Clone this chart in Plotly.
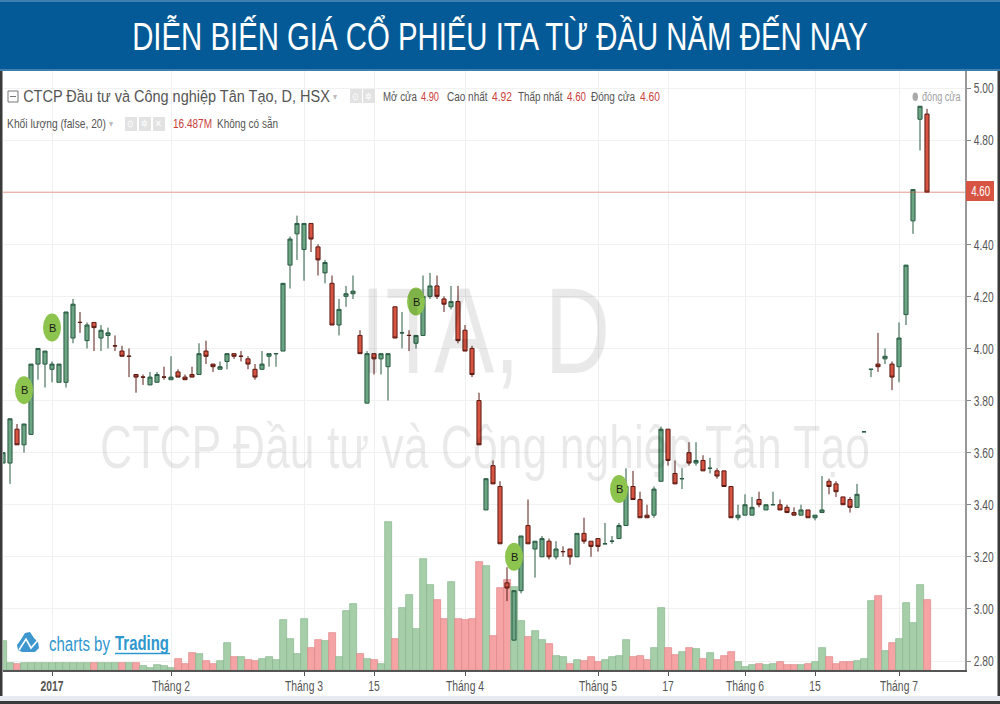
import json
import plotly.graph_objects as go

# ---------- data ----------
open_ = [3.56,3.56,3.69,3.63,3.67,3.94,3.94,3.92,3.87,3.87,4.04,4.10,4.03,4.10,4.04,4.05,4.01,3.99,3.97,3.90,
         3.89,3.86,3.87,3.89,3.88,3.91,3.89,3.90,3.90,3.99,3.94,3.92,3.95,3.98,3.97,3.96,3.92,3.92,3.97,3.98,
         3.99,4.32,4.44,4.38,4.48,4.39,4.29,4.25,4.09,4.20,4.21,4.05,3.79,3.98,3.96,3.93,4.16,4.06,4.05,4.02,
         4.05,4.20,4.24,4.19,4.16,4.18,4.07,4.00,3.80,3.38,3.55,3.47,3.10,2.88,3.07,3.32,3.23,3.20,3.26,3.20,
         3.22,3.23,3.20,3.29,3.26,3.27,3.25,3.26,3.27,3.32,3.47,3.42,3.36,3.36,3.49,3.69,3.52,3.50,3.60,3.56,
         3.57,3.54,3.53,3.53,3.47,3.35,3.36,3.36,3.42,3.38,3.40,3.40,3.39,3.37,3.36,3.38,3.35,3.37,3.49,3.48,
         3.43,3.42,3.39,3.68,3.92,3.94,3.96,3.94,3.93,4.13,4.49,4.88,4.90]
high = [3.60,3.73,3.71,3.71,3.94,4.00,3.99,3.95,3.94,4.14,4.19,4.14,4.10,4.10,4.09,4.08,4.05,4.01,4.00,3.90,
        3.90,3.91,3.91,3.93,3.97,3.92,3.90,3.93,4.02,4.03,3.94,3.95,3.98,3.98,3.99,3.97,3.94,3.99,3.98,3.98,
        4.25,4.43,4.51,4.48,4.48,4.40,4.34,4.28,4.19,4.24,4.28,4.07,3.99,3.98,3.98,3.98,4.16,4.14,4.07,4.05,
        4.28,4.29,4.28,4.20,4.24,4.24,4.09,4.01,3.83,3.50,3.57,3.49,3.16,3.07,3.28,3.42,3.26,3.28,3.27,3.26,
        3.24,3.23,3.29,3.35,3.26,3.27,3.33,3.28,3.33,3.54,3.53,3.45,3.40,3.47,3.70,3.69,3.57,3.54,3.64,3.64,
        3.59,3.58,3.54,3.53,3.47,3.40,3.44,3.43,3.45,3.40,3.45,3.42,3.40,3.39,3.40,3.38,3.36,3.51,3.50,3.49,
        3.43,3.43,3.48,3.68,3.92,4.06,4.00,3.95,4.10,4.32,4.61,4.93,4.92]
low = [3.56,3.48,3.63,3.60,3.67,3.88,3.85,3.87,3.87,3.85,4.02,4.06,4.00,3.99,3.99,4.00,3.99,3.97,3.89,3.83,
       3.86,3.86,3.87,3.88,3.88,3.89,3.88,3.89,3.90,3.94,3.91,3.92,3.92,3.96,3.95,3.92,3.88,3.92,3.93,3.93,
       3.99,4.23,4.34,4.26,4.37,4.28,4.25,4.09,4.05,4.16,4.19,3.98,3.79,3.90,3.90,3.80,4.04,4.00,3.99,4.00,
       4.05,4.19,4.19,4.14,4.15,4.02,3.99,3.89,3.63,3.38,3.48,3.25,3.03,2.88,3.06,3.25,3.12,3.20,3.19,3.19,
       3.20,3.17,3.20,3.25,3.20,3.22,3.25,3.25,3.27,3.32,3.42,3.35,3.35,3.35,3.49,3.55,3.48,3.46,3.55,3.55,
       3.53,3.52,3.50,3.47,3.35,3.34,3.36,3.36,3.39,3.38,3.40,3.38,3.37,3.36,3.36,3.35,3.34,3.37,3.44,3.43,
       3.40,3.37,3.39,3.68,3.89,3.91,3.94,3.84,3.87,4.09,4.44,4.76,4.60]
close = [3.60,3.73,3.63,3.71,3.94,4.00,3.99,3.94,3.94,4.14,4.17,4.10,4.09,4.08,4.07,4.06,4.01,3.97,3.97,3.89,
         3.89,3.89,3.90,3.89,3.89,3.89,3.88,3.89,3.98,3.97,3.93,3.93,3.98,3.97,3.97,3.94,3.89,3.94,3.98,3.98,
         4.25,4.42,4.48,4.48,4.42,4.34,4.33,4.09,4.15,4.21,4.22,3.98,3.98,3.96,3.98,3.98,4.04,4.06,4.05,4.05,
         4.20,4.24,4.20,4.17,4.18,4.03,3.99,3.90,3.63,3.50,3.48,3.25,3.08,3.07,3.28,3.25,3.26,3.27,3.20,3.23,
         3.22,3.20,3.29,3.26,3.24,3.24,3.25,3.26,3.32,3.47,3.42,3.35,3.35,3.46,3.69,3.57,3.48,3.50,3.56,3.57,
         3.53,3.54,3.51,3.47,3.35,3.36,3.40,3.39,3.40,3.40,3.40,3.38,3.37,3.36,3.38,3.35,3.36,3.38,3.47,3.45,
         3.40,3.39,3.44,3.68,3.92,3.93,3.97,3.89,4.04,4.32,4.61,4.93,4.60]
volume_m = [6.8,1.6,1.4,1.6,1.6,1.6,1.6,1.6,1.6,1.6,1.6,1.6,1.6,1.6,1.6,1.6,1.6,1.6,1.6,1.6,
            0.9,0.5,1.2,0.9,0.5,2.6,1.4,4.0,3.8,2.1,1.4,2.1,6.4,3.1,3.1,2.4,2.1,2.6,3.1,2.4,
            11.8,7.3,3.8,12.0,5.2,7.1,6.8,8.7,3.1,13.9,15.5,3.8,2.6,2.4,1.4,34.9,7.3,14.6,17.7,9.7,
            26.1,20.0,16.5,12.0,20.7,12.0,11.8,12.0,25.4,24.5,8.0,19.3,21.2,19.5,11.5,7.8,9.2,7.1,6.1,3.3,
            3.1,1.4,2.4,2.1,3.1,1.9,2.4,3.1,3.3,7.1,3.1,3.3,2.4,5.2,14.6,5.2,3.5,4.2,5.2,4.9,
            2.6,4.0,2.4,3.3,4.2,1.9,0.7,1.2,1.4,1.2,1.4,1.9,1.2,1.2,1.2,1.4,1.9,5.2,3.1,1.4,
            1.9,1.9,2.1,2.6,16.2,17.4,4.5,6.4,7.3,15.8,11.1,20.0,16.487]
# bars drawn in the falling-volume (red) colour
red_bars = [2,13,17,19,25,26,27,29,30,33,35,36,44,45,47,51,53,56,62,63,65,66,67,68,70,71,72,75,78,81,83,84,85,
            90,91,92,95,96,98,100,102,103,104,108,111,112,113,115,118,119,120,121,125,127,132]
bar_idx = list(range(len(close)))

tick_idx = [7, 24, 43, 53, 66, 85, 95, 106, 116, 128]
tick_text = ["<b>2017</b>", "Tháng 2", "Tháng 3", "15", "Tháng 4", "Tháng 5", "17", "Tháng 6", "15", "Tháng 7"]
price_ticks = [2.8, 3.0, 3.2, 3.4, 3.6, 3.8, 4.0, 4.2, 4.4, 4.6, 4.8, 5.0]
buy_idx = [3, 7, 59, 73, 88]
buy_price = [3.84, 4.08, 4.18, 3.20, 3.46]
last_close = 4.60

title = "DIỄN BIẾN GIÁ CỔ PHIẾU ITA TỪ ĐẦU NĂM ĐẾN NAY"

vol_colors = ["#F5A3A5" if i in red_bars else "#A6CFA9" for i in bar_idx]
vol_lines = ["#DE8487" if i in red_bars else "#86B58C" for i in bar_idx]

# ---------- layout geometry ----------
W, H = 1000, 704
L, R, T, B = 3, 965, 71, 670
FONT = "Liberation Sans"
PX_PER_UNIT = 260.45
px = lambda x: (x - L) / (R - L)
py = lambda y: (B - y) / (B - T)

fig = go.Figure()
fig.add_trace(go.Bar(x=bar_idx, y=volume_m, yaxis="y", width=1.0,
                     marker=dict(color=vol_colors, line=dict(color=vol_lines, width=0.7)),
                     hoverinfo="skip", showlegend=False))
fig.add_trace(go.Candlestick(x=bar_idx, open=open_, high=high, low=low, close=close, yaxis="y2",
                             increasing=dict(line=dict(color="#2A5A43", width=1), fillcolor="#6BA583"),
                             decreasing=dict(line=dict(color="#5B1A13", width=1), fillcolor="#D75442"),
                             whiskerwidth=0, showlegend=False))

shapes, ann, fit = [], [], {}

def rect(x0, y0, x1, y1, color):
    shapes.append(dict(type="rect", xref="paper", yref="paper", x0=px(x0), x1=px(x1), y0=py(y0), y1=py(y1),
                       fillcolor=color, line=dict(width=0), layer="above"))

def text(x, y, s, size=12, color="#555555", anchor="left", width=None):
    """width = wanted drawn width in px; the page narrows the text to it (the source face is condensed)."""
    fit[len(ann)] = dict(w=width, a=anchor)
    ann.append(dict(xref="paper", yref="paper", x=px(x), y=py(y), text=s, showarrow=False, xanchor=anchor,
                    yanchor="middle", font=dict(family=FONT, size=size, color=color), borderpad=0, borderwidth=0))

# watermark
text(485, 331, "ITA, D", 122, "rgba(0,0,0,0.085)", "center", 250)
text(485, 447, "CTCP Đầu tư và Công nghiệp Tân Tạo", 62, "rgba(0,0,0,0.085)", "center", 770)

# last close line
shapes.append(dict(type="line", xref="paper", yref="y2", x0=0, x1=1, y0=last_close, y1=last_close,
                   line=dict(color="rgba(215,84,66,0.55)", width=1), layer="above"))

# buy markers
for i, p in zip(buy_idx, buy_price):
    shapes.append(dict(type="circle", xref="x", yref="y2", xsizemode="pixel", ysizemode="pixel",
                       xanchor=i, yanchor=p, x0=-9, x1=9, y0=-14, y1=14,
                       fillcolor="#8CC44E", line=dict(width=0), layer="above"))
    ann.append(dict(xref="x", yref="y2", x=i, y=p, text="B", showarrow=False,
                    font=dict(family=FONT, size=11, color="#1a1a1a")))

# header band
rect(0, 0, 1000, 71, "#035A96")
rect(0, 0, 1000, 2, "#3D7FAE")
rect(0, 69, 1000, 71, "#3D7FAE")
text(500, 36, title, 39, "#FFFFFF", "center", 736)

# frame
rect(0, 71, 2.5, 704, "#3A3A3A")
rect(997.5, 71, 1000, 704, "#3A3A3A")
rect(0, 696, 1000, 701, "#E6EAEF")
rect(0, 701, 1000, 704, "#3A3A3A")

# legend row 1
shapes.append(dict(type="rect", xref="paper", yref="paper", x0=px(8), x1=px(18), y0=py(102), y1=py(91),
                   line=dict(color="#777777", width=1), fillcolor="rgba(0,0,0,0)"))
shapes.append(dict(type="line", xref="paper", yref="paper", x0=px(10), x1=px(16), y0=py(96.5), y1=py(96.5),
                   line=dict(color="#777777", width=1)))
text(23, 96, "CTCP Đầu tư và Công nghiệp Tân Tạo, D, HSX", 16.5, "#555555", width=307)
text(333, 96, "▾", 10, "#BBBBBB")
for bx in (350, 363):
    rect(bx, 89, bx + 12, 103, "#E2E2E2")
text(356, 96, "⊙", 10, "#FFFFFF", "center")
text(369, 96, "✲", 10, "#FFFFFF", "center")
text(383, 97, "Mở cửa", 12.5, width=34)
text(421, 97, "4.90", 12.5, "#C9403A", width=18)
text(447, 97, "Cao nhất", 12.5, width=41)
text(492, 97, "4.92", 12.5, "#C9403A", width=20)
text(518, 97, "Thấp nhất", 12.5, width=45)
text(567, 97, "4.60", 12.5, "#C9403A", width=19)
text(591, 97, "Đóng cửa", 12.5, width=44)
text(640, 97, "4.60", 12.5, "#C9403A", width=20)

# legend row 2
text(7, 124, "Khối lượng (false, 20)", 13.5, width=99)
text(109, 124, "▾", 10, "#BBBBBB")
for bx in (125, 139, 153):
    rect(bx, 117, bx + 12, 131, "#E2E2E2")
text(131, 124, "⊙", 10, "#FFFFFF", "center")
text(145, 124, "✲", 10, "#FFFFFF", "center")
text(159, 124, "✕", 10, "#FFFFFF", "center")
text(173, 124, "16.487M", 13.5, "#C9403A", width=39)
text(217, 124, "Không có sẵn", 13.5, width=61)

# session label
shapes.append(dict(type="circle", xref="paper", yref="paper", x0=px(912.5), x1=px(918), y0=py(101), y1=py(92.5),
                   fillcolor="#AAAAAA", line=dict(width=0)))
text(922, 96, "đóng cửa", 13, "#A0A0A0", width=39)

# last price tag
rect(966, 181, 994, 201, "#D75442")
text(980, 191, "4.60", 14, "#FFFFFF", "center", 19)

# logo
def coords(points):
    return " L ".join(f"{px(a):.5f},{py(b):.5f}" for a, b in points)

shapes.append(dict(type="path", xref="paper", yref="paper", fillcolor="#3E97CF", line=dict(width=0),
                   path="M " + coords([(17, 645), (22, 638), (25, 633), (30, 632), (34, 638), (38, 642),
                                       (39, 648), (35, 652), (22, 652), (18, 650)]) + " Z"))
shapes.append(dict(type="path", xref="paper", yref="paper", fillcolor="rgba(0,0,0,0)",
                   line=dict(color="#FFFFFF", width=1.6),
                   path="M " + coords([(19, 650), (26, 639), (31, 648), (38, 640)])))
text(49, 644, "charts by", 20, "#2E97CE", width=61)
text(115, 643, "<b>Trading</b>", 20, "#2E97CE", width=54)
shapes.append(dict(type="line", xref="paper", yref="paper", x0=px(115), x1=px(170), y0=py(653.5), y1=py(653.5),
                   line=dict(color="#2E97CE", width=1.5)))

fig.update_layout(
    width=W, height=H, margin=dict(l=L, r=W - R, t=T, b=H - B, pad=0, autoexpand=False),
    paper_bgcolor="#FFFFFF", plot_bgcolor="#FFFFFF",
    bargap=0, boxgap=0.35, boxgroupgap=0.1, showlegend=False, hovermode=False,
    shapes=shapes, annotations=ann,
    xaxis=dict(range=[0, (R - L) / 7], rangeslider=dict(visible=False), tickmode="array", tickvals=tick_idx,
               ticktext=tick_text, ticks="outside", ticklen=4, tickcolor="#555555", showgrid=True,
               gridcolor="#EFEFEF", gridwidth=1, showline=True, linecolor="#555555", linewidth=2, zeroline=False,
               automargin=False, ticklabelstandoff=-2, tickfont=dict(family=FONT, size=14, color="#555555")),
    yaxis=dict(range=[0, 599 * 16.487 / 70], visible=False, showgrid=False, fixedrange=True, automargin=False),
    yaxis2=dict(range=[2.8 - (B - 661) / PX_PER_UNIT, 5 + (88 - T) / PX_PER_UNIT], overlaying="y", side="right",
                tickmode="array", tickvals=price_ticks, ticktext=[f"{v:.2f}" for v in price_ticks], ticks="outside",
                ticklen=4, tickcolor="#888888", showgrid=True, gridcolor="#F1F1F1", gridwidth=1, zeroline=False,
                showline=True, linecolor="#999999", linewidth=1.5, automargin=False,
                tickfont=dict(family=FONT, size=15, color="#555555")),
)

narrow_js = """
document.body.style.margin='0';document.body.style.overflow='hidden';
var FIT=%s;
function squeeze(el,s,left){var b=el.getBBox();var c=left?b.x:b.x+b.width/2;var t=el.getAttribute('transform')||'';
  el.setAttribute('transform',t+' translate('+c+',0) scale('+s+',1) translate('+(-c)+',0)');}
document.querySelectorAll('g.annotation').forEach(function(g){var f=FIT[g.getAttribute('data-index')];
  var el=g.querySelector('text.annotation-text');if(!f||!el)return;
  var w=el.getBBox().width;squeeze(el,f.w?f.w/w:0.8,f.a==='left');});
document.querySelectorAll('.xtick text').forEach(function(el){squeeze(el,0.74,false);});
document.querySelectorAll('.y2tick text').forEach(function(el){squeeze(el,0.68,true);});
""" % json.dumps(fit)
fig.write_html("out.html", post_script=narrow_js, config=dict(displayModeBar=False))
